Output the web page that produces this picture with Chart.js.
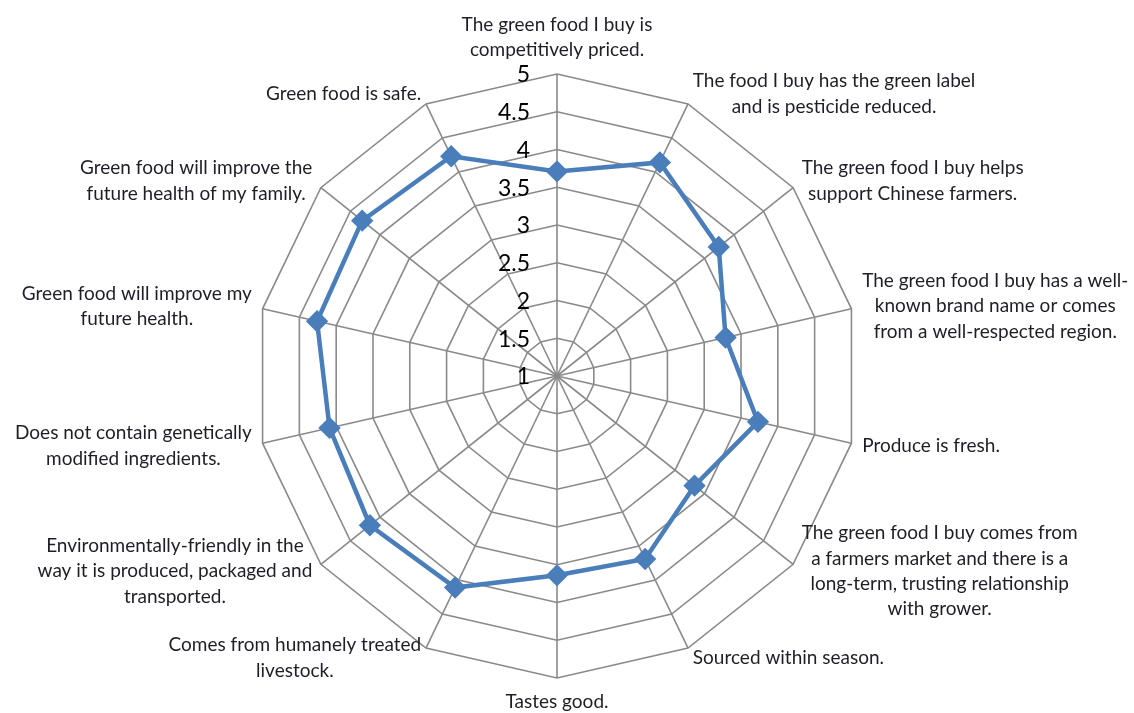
<!DOCTYPE html>
<html>
<head>
<meta charset="utf-8">
<script src="https://cdn.jsdelivr.net/npm/chart.js@4/dist/chart.umd.min.js"></script>
<style>
  html, body { margin: 0; padding: 0; background: #fff; }
  #wrap { width: 1134px; height: 713px; }
</style>
</head>
<body>
<div id="wrap"><canvas id="radar"></canvas></div>
<script>
// category labels, clockwise from the top
const categories = [
    ['The green food I buy is', 'competitively priced.'],
    ['The food I buy has the green label', 'and is pesticide reduced.'],
    ['The green food I buy helps', 'support Chinese farmers.'],
    ['The green food I buy has a well-', 'known brand name or comes', 'from a well-respected region.'],
    ['Produce is fresh.'],
    ['The green food I buy comes from', 'a farmers market and there is a', 'long-term, trusting relationship', 'with grower.'],
    ['Sourced within season.'],
    ['Tastes good.'],
    ['Comes from humanely treated', 'livestock.'],
    ['Environmentally-friendly in the', 'way it is produced, packaged and', 'transported.'],
    ['Does not contain genetically', 'modified ingredients.'],
    ['Green food will improve my', 'future health.'],
    ['Green food will improve the', 'future health of my family.'],
    ['Green food is safe.']
];

const meanScores = [3.71, 4.14, 3.74, 3.29, 3.73, 3.33, 3.69, 3.64, 4.11, 4.17, 4.09, 4.26, 4.30, 4.23];

const tickLabels = ['1', '1.5', '2', '2.5', '3', '3.5', '4', '4.5', '5'];

const labelFont = { family: 'Lato, "Open Sans", sans-serif', size: 19, lineHeight: 1.34 };
const labelPad = 11;

// pin the web to the same centre and radius as the original, move the label
// boxes Chart.js already measured along with it, and centre side labels
// vertically on their spoke like the original does
function pinRadar(scale) {
    const items = scale._pointLabelItems || [];
    const before = items.map((_, i) => scale.getPointPosition(i, scale.drawingArea + labelPad));
    scale.xCenter = 557;
    scale.yCenter = 376;
    scale.drawingArea = 302;
    items.forEach((item, i) => {
        const p = scale.getPointPosition(i, scale.drawingArea + labelPad);
        const dx = p.x - before[i].x;
        item.x += dx; item.left += dx; item.right += dx;
        const h = item.bottom - item.top;
        let top = item.top + (p.y - before[i].y);
        if (item.textAlign !== 'center') {
            top = p.y - h / 2;
        }
        item.y = top; item.top = top; item.bottom = top + h;
    });
}

// draws tick labels left of the top spoke and point labels centred in their boxes
const customLabels = {
    id: 'customLabels',
    afterDraw(chart) {
        const scale = chart.scales.r;
        const ctx = chart.ctx;
        ctx.save();

        ctx.font = '23px Lato, "Open Sans", sans-serif';
        ctx.fillStyle = '#000';
        ctx.textAlign = 'right';
        ctx.textBaseline = 'middle';
        scale.ticks.forEach((tick, i) => {
            const pos = scale.getPointPositionForValue(0, tick.value);
            ctx.fillText(tickLabels[i] || tick.label, pos.x - 27, pos.y + 1);
        });

        ctx.font = `${labelFont.size}px ${labelFont.family}`;
        ctx.fillStyle = '#1e1e28';
        ctx.textAlign = 'center';
        ctx.textBaseline = 'middle';
        const lh = labelFont.size * labelFont.lineHeight;
        (scale._pointLabelItems || []).forEach((item, i) => {
            const lines = categories[i];
            const cx = (item.left + item.right) / 2;
            lines.forEach((line, j) => {
                ctx.fillText(line, cx, item.top + lh * (j + 0.5));
            });
        });
        ctx.restore();
    }
};

new Chart(document.getElementById('radar'), {
    type: 'radar',
    data: {
        labels: categories,
        datasets: [{
            label: 'Mean',
            data: meanScores,
            borderColor: '#4a7ebb',
            backgroundColor: '#4a7ebb',
            borderWidth: 4.5,
            fill: false,
            pointStyle: 'rectRot',
            pointRadius: 8,
            pointHoverRadius: 8,
            pointBackgroundColor: '#4a7ebb',
            pointBorderColor: '#4a7ebb',
            tension: 0
        }]
    },
    options: {
        responsive: true,
        maintainAspectRatio: false,
        animation: false,
        layout: { padding: 0 },
        plugins: {
            legend: { display: false },
            tooltip: { enabled: false }
        },
        scales: {
            r: {
                min: 1,
                max: 5,
                afterFit: pinRadar,
                ticks: {
                    stepSize: 0.5,
                    display: false
                },
                grid: { color: '#8a8a8a', lineWidth: 1.6 },
                angleLines: { color: '#8a8a8a', lineWidth: 1.6 },
                pointLabels: {
                    display: true,
                    font: labelFont,
                    color: 'rgba(0,0,0,0)',
                    padding: labelPad
                }
            }
        }
    },
    plugins: [customLabels]
});
</script>
</body>
</html>
